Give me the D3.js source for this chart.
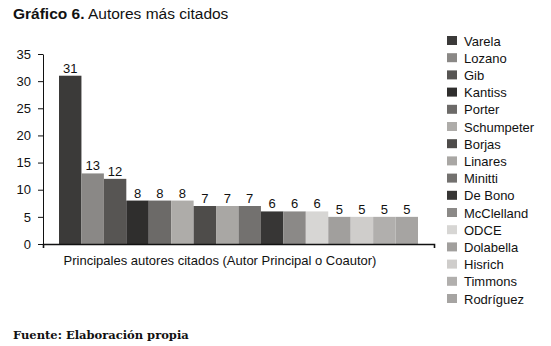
<!DOCTYPE html>
<html>
<head>
<meta charset="utf-8">
<script src="https://cdn.jsdelivr.net/npm/d3@7"></script>
<style>
  body { margin: 0; background: #fff; }
  text { font-family: "Liberation Sans", Arial, sans-serif; fill: #111; }
</style>
</head>
<body>
<svg id="chart" width="551" height="346"></svg>
<script>
// data
var autores = ["Varela", "Lozano", "Gib", "Kantiss", "Porter", "Schumpeter", "Borjas", "Linares",
  "Minitti", "De Bono", "McClelland", "ODCE", "Dolabella", "Hisrich", "Timmons", "Rodríguez"];
var citas = [31, 13, 12, 8, 8, 8, 7, 7, 7, 6, 6, 6, 5, 5, 5, 5];
var grises = ["#3b3a39", "#8a8886", "#575553", "#2f2e2d", "#6c6a68", "#aeaca9", "#4e4c4a", "#a9a7a4",
  "#73716f", "#373635", "#8b8987", "#d7d6d4", "#a19f9d", "#cfcdcb", "#b1afad", "#a6a4a2"];
var yTicks = [0, 5, 10, 15, 20, 25, 30, 35];

var data = autores.map(function(d, i) {
  return {name: d, value: citas[i], color: grises[i]};
});

var svg = d3.select("#chart");

var y = d3.scaleLinear().domain([0, 35]).range([244, 54]);
var x = d3.scaleBand().domain(autores).range([59, 418]).padding(0);
var xAxisScale = d3.scaleLinear().range([43, 434]);

// title
var title = svg.append("text").attr("x", 13).attr("y", 19).style("font-size", "15.5px");
title.append("tspan").style("font-weight", "bold").text("Gráfico 6.");
title.append("tspan").text(" Autores más citados");

// bars
svg.append("g")
  .selectAll("rect")
  .data(data)
  .join("rect")
    .attr("x", function(d) { return x(d.name); })
    .attr("y", function(d) { return y(d.value); })
    .attr("width", x.bandwidth())
    .attr("height", function(d) { return y(0) - y(d.value); })
    .style("fill", function(d) { return d.color; });

// value labels
svg.append("g")
  .selectAll("text")
  .data(data)
  .join("text")
    .attr("x", function(d) { return x(d.name) + x.bandwidth() / 2; })
    .attr("y", function(d) { return y(d.value) - 3; })
    .attr("text-anchor", "middle")
    .style("font-size", "13px")
    .text(function(d) { return d.value; });

// y axis
var yAxis = svg.append("g")
  .attr("transform", "translate(43,0)")
  .call(d3.axisLeft(y).tickValues(yTicks).tickSize(5).tickSizeOuter(0).tickPadding(7));
yAxis.selectAll("text").style("font-size", "13px").style("font-family", "Liberation Sans, Arial, sans-serif").attr("fill", "#111");
yAxis.selectAll("line, path").attr("stroke", "#111");

// x axis: only the line with the two end ticks
var xAxis = svg.append("g")
  .attr("transform", "translate(0,244)")
  .call(d3.axisBottom(xAxisScale).tickValues([]).tickSizeOuter(4));
xAxis.select("path").attr("stroke", "#111").attr("stroke-width", 1.6);

svg.append("text")
  .attr("x", 220)
  .attr("y", 265)
  .attr("text-anchor", "middle")
  .style("font-size", "13px")
  .text("Principales autores citados (Autor Principal o Coautor)");

// legend
var legend = svg.append("g")
  .selectAll("g")
  .data(data)
  .join("g")
    .attr("transform", function(d, i) { return "translate(447," + (36 + i * 17.2) + ")"; });
legend.append("rect")
  .attr("width", 10)
  .attr("height", 9)
  .style("fill", function(d) { return d.color; });
legend.append("text")
  .attr("x", 17)
  .attr("y", 9.5)
  .style("font-size", "13px")
  .text(function(d) { return d.name; });

// source
svg.append("text")
  .attr("x", 13)
  .attr("y", 339)
  .style("font-family", "'DejaVu Serif', serif")
  .style("font-weight", "bold")
  .style("font-size", "11.5px")
  .text("Fuente: Elaboración propia");
</script>
</body>
</html>
